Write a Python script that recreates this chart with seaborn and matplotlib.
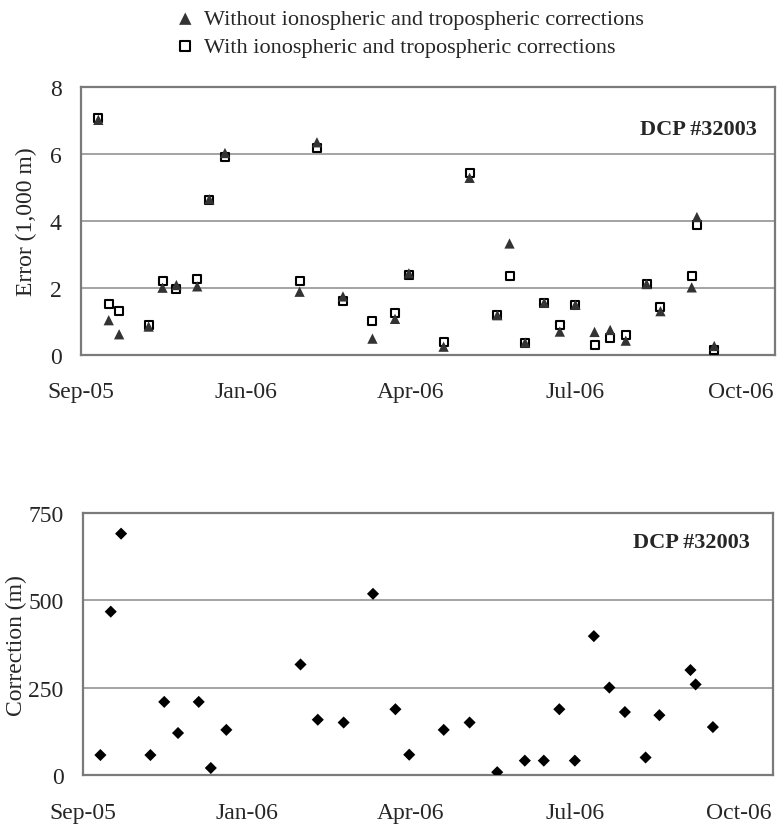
import numpy as np
import pandas as pd
import matplotlib
matplotlib.use('Agg')
import matplotlib.pyplot as plt
import seaborn as sns

dates = pd.to_datetime([
    '2005-10-08', '2005-10-14', '2005-10-20', '2005-11-06', '2005-11-14',
    '2005-11-22', '2005-12-04', '2005-12-11', '2005-12-20', '2006-02-01',
    '2006-02-11', '2006-02-26', '2006-03-15', '2006-03-28', '2006-04-05',
    '2006-04-25', '2006-05-10', '2006-05-26', '2006-06-02', '2006-06-11',
    '2006-06-22', '2006-07-01', '2006-07-10', '2006-07-21', '2006-07-30',
    '2006-08-08', '2006-08-20', '2006-08-28', '2006-09-15', '2006-09-18',
    '2006-09-28'])

# error in 1,000 m
error_without = [7.02, 1.04, 0.62, 0.85, 2.01, 2.09, 2.05, 4.65, 6.03, 1.89,
                 6.35, 1.75, 0.49, 1.08, 2.44, 0.25, 5.29, 1.19, 3.33, 0.37,
                 1.56, 0.70, 1.50, 0.69, 0.75, 0.43, 2.12, 1.31, 2.02, 4.12,
                 0.27]
error_with = [7.07, 1.52, 1.31, 0.91, 2.22, 1.97, 2.27, 4.63, 5.90, 2.21,
              6.19, 1.60, 1.01, 1.26, 2.38, 0.38, 5.42, 1.20, 2.37, 0.35,
              1.55, 0.90, 1.49, 0.29, 0.50, 0.61, 2.11, 1.44, 2.36, 3.87,
              0.14]

# correction in m (Jun 2 lies off the chart)
correction = [58, 468, 691, 58, 210, 121, 210, 21, 130, 317,
              159, 151, 519, 189, 59, 130, 151, 9, np.nan, 42,
              42, 189, 42, 398, 251, 181, 51, 172, 301, 260,
              138]

tick_dates = pd.to_datetime(['2005-09-28', '2006-01-01', '2006-04-06',
                             '2006-07-10', '2006-10-13'])
tick_labels = ['Sep-05', 'Jan-06', 'Apr-06', 'Jul-06', 'Oct-06']
x_range = pd.to_datetime(['2005-09-28', '2006-11-02'])

label_without = 'Without ionospheric and tropospheric corrections'
label_with = 'With ionospheric and tropospheric corrections'
station = 'DCP #32003'

sns.set_style('white')
plt.rcParams['font.family'] = ['Liberation Serif', 'DejaVu Serif']

fig = plt.figure(figsize=(7.77, 8.28), dpi=100)
ax1 = fig.add_axes([0.1042, 0.570, 0.8932, 0.3237])
ax2 = fig.add_axes([0.107, 0.0624, 0.8882, 0.3168])


def style_axis(ax, ylim, yticks, ylabel, tx, ty):
    ax.set_xlim(x_range)
    ax.set_ylim(ylim)
    ax.set_xticks(tick_dates)
    ax.set_xticklabels(tick_labels)
    ax.set_yticks(yticks)
    ax.yaxis.grid(True, color='#8a8a8a', lw=1.1)
    ax.xaxis.grid(False)
    ax.set_axisbelow(True)
    for sp in ax.spines.values():
        sp.set_color('#7a7a7a')
        sp.set_linewidth(1.6)
    ax.tick_params(axis='both', direction='out', length=6, width=1,
                   color='#7a7a7a', labelsize=17)
    ax.tick_params(axis='x', pad=13)
    ax.tick_params(axis='y', pad=8)
    ax.set_ylabel(ylabel, fontsize=17)
    ax.set_xlabel('')
    ax.text(tx, ty, station, transform=ax.transAxes, ha='right',
            va='center', fontsize=16, fontweight='bold')


# top panel
sns.scatterplot(x=dates, y=error_with, marker='s', s=40, facecolor='white',
                edgecolor='black', linewidth=1.5, ax=ax1, zorder=3,
                label=label_with)
sns.scatterplot(x=dates, y=error_without, marker='^', s=55, color='#333333',
                edgecolor='none', ax=ax1, zorder=4, label=label_without)
style_axis(ax1, (0, 8), [0, 2, 4, 6, 8], 'Error (1,000 m)', 0.9736, 0.843)
ax1.yaxis.labelpad = 9

handles, labels = ax1.get_legend_handles_labels()
ax1.get_legend().remove()
fig.legend([handles[1], handles[0]], [labels[1], labels[0]],
           loc='upper left', bbox_to_anchor=(0.227, 0.988), frameon=False,
           fontsize=16, handlelength=0.8, handletextpad=0.45,
           labelspacing=0.3, borderpad=0, borderaxespad=0, markerscale=1.2)

# bottom panel
sns.scatterplot(x=dates, y=correction, marker='D', s=38, color='black',
                edgecolor='none', ax=ax2, zorder=3)
style_axis(ax2, (0, 750), [0, 250, 500, 750], 'Correction (m)', 0.966, 0.888)
ax2.yaxis.labelpad = 1

fig.savefig('out.png', dpi=100)
